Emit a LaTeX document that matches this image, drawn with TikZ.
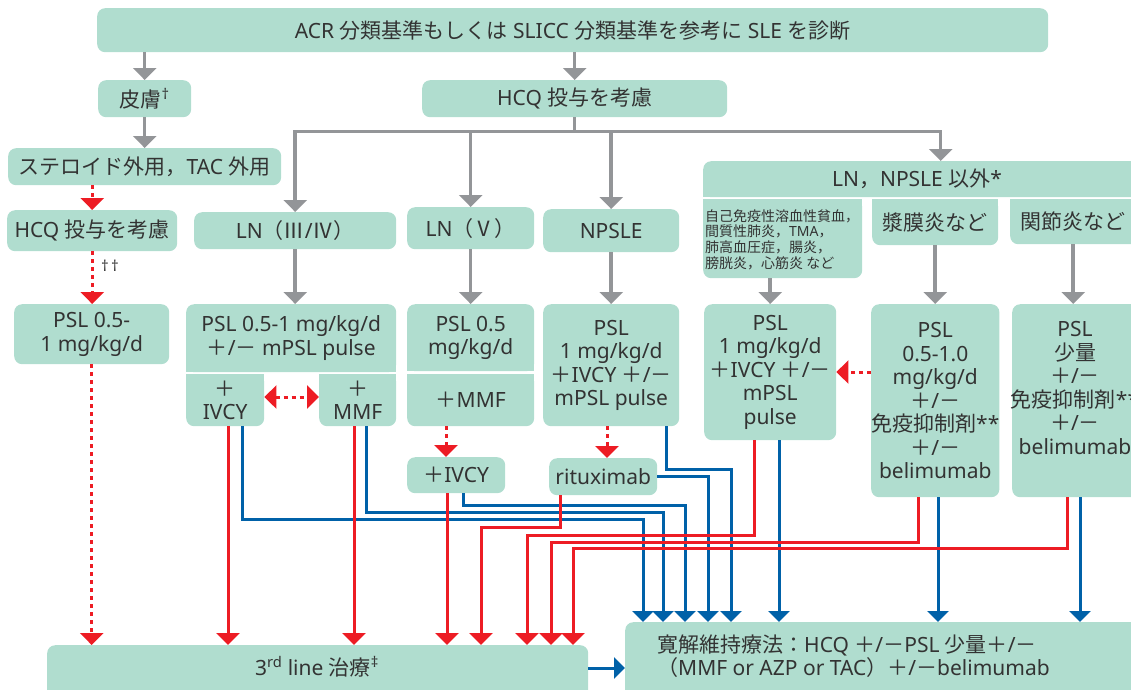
\documentclass[tikz,border=0pt]{standalone}
\usepackage{fontspec}
\setmainfont{Noto Sans}
\newfontfamily\cjk{Noto Sans CJK JP}
\usetikzlibrary{arrows.meta}
\definecolor{boxc}{HTML}{B0DDCF}
\definecolor{txtc}{HTML}{333333}
\definecolor{grayc}{HTML}{939598}
\definecolor{redc}{HTML}{ED1C24}
\definecolor{bluec}{HTML}{0061A8}
\newcommand\PMj{{\cjk ＋}/{\cjk －}}
\tikzset{
 box/.style={fill=boxc, rounded corners=8pt, inner sep=0pt, align=center, text=txtc, anchor=north west, font=\fontsize{21pt}{23.5pt}\selectfont},
 txt/.style={inner sep=0pt, text=txtc, font=\fontsize{21pt}{23.5pt}\selectfont},
 garrow/.style={draw=grayc, line width=3.5pt, -{Triangle[width=23pt,length=12pt]}},
 rarrow/.style={draw=redc, line width=3pt, -{Triangle[width=23pt,length=12pt]}},
 rdot/.style={rarrow, dash pattern=on 4pt off 4pt},
 barrow/.style={draw=bluec, line width=3pt, -{Triangle[width=21pt,length=11pt]}},
}
\newcommand\bx[6]{\node[box, minimum width={(#4-#2)*1pt}, minimum height={(#5-#3)*1pt}] (#1) at (#2,#3) {#6};}
\begin{document}
\begin{tikzpicture}[x=1pt,y=-1pt]
\useasboundingbox (0,0) rectangle (1131,689);
\clip (0,0) rectangle (1131,689);
% square-corner patches (drawn first, under the boxes)
\fill[boxc] (703,185) rectangle (1140,197);
\fill[boxc] (703,199) rectangle (862,211);
\fill[boxc] (872,199) rectangle (998,211);
\fill[boxc] (1010,199) rectangle (1140,211);
\fill[boxc] (186,360) rectangle (396,372);
\fill[boxc] (186,374) rectangle (264,386);
\fill[boxc] (319,374) rectangle (396,386);
\fill[boxc] (407,359) rectangle (534,371);
\fill[boxc] (407,374) rectangle (534,386);
% boxes
\bx{top}{97}{8}{1048}{52}{ACR {\cjk 分類基準もしくは} SLICC {\cjk 分類基準を参考に} SLE {\cjk を診断}}
\bx{skin}{98}{80}{191}{117}{{\cjk 皮膚}\textsuperscript{†}}
\bx{hcq}{422}{80}{727}{117}{HCQ {\cjk 投与を考慮}}
\bx{ster}{8}{148}{281}{185}{{\cjk ステロイド外用，}TAC {\cjk 外用}}
\bx{hcqL}{7}{210}{177}{251}{HCQ {\cjk 投与を考慮}}
\bx{pslL}{14}{304}{169}{364}{PSL 0.5-\\1 mg/kg/d}
\bx{ln34}{194}{212}{396}{249}{LN{\cjk （Ⅲ}/{\cjk Ⅳ）}}
\bx{ln5}{407}{207}{534}{249}{LN{\cjk （Ⅴ）}}
\bx{npsle}{543}{209}{679}{252}{NPSLE}
\bx{hdr}{703}{161}{1140}{197}{}
\node[txt] (hdrt) at (917,179) {LN{\cjk ，}NPSLE {\cjk 以外}*};
\bx{auto}{703}{199}{862}{278}{}
\node[txt, anchor=west, align=left, font=\fontsize{14pt}{15.7pt}\selectfont] (autot) at (705,239.5)
 {{\cjk 自己免疫性溶血性貧血，}\\{\cjk 間質性肺炎，}TMA{\cjk ，}\\{\cjk 肺高血圧症，腸炎，}\\{\cjk 膀胱炎，心筋炎 など}};
\bx{serous}{872}{199}{998}{245}{{\cjk 漿膜炎など}}
\bx{arth}{1010}{199}{1140}{244}{}
\node[txt] (artht) at (1073,221) {{\cjk 関節炎など}};
% second row
\bx{psl34}{186}{304}{396}{372}{PSL 0.5-1 mg/kg/d\\\PMj\ mPSL pulse}
\bx{ivcy}{186}{374}{264}{426}{{\cjk ＋}\\IVCY}
\bx{mmf}{319}{374}{396}{426}{{\cjk ＋}\\MMF}
\bx{psl5}{407}{304}{534}{371}{PSL 0.5\\mg/kg/d}
\bx{mmf5}{407}{374}{534}{426}{{\cjk ＋}MMF}
\bx{ivcy5}{407}{457}{505}{493}{{\cjk ＋}IVCY}
\bx{pslNP}{543}{304}{679}{426}{PSL\\1 mg/kg/d\\{\cjk ＋}IVCY \PMj\\mPSL pulse}
\bx{ritux}{549}{458}{657}{495}{rituximab}
\bx{pslA}{704}{304}{836}{440}{PSL\\1 mg/kg/d\\{\cjk ＋}IVCY \PMj\\mPSL\\pulse}
\bx{pslB}{871}{304}{998}{497}{PSL\\0.5-1.0\\mg/kg/d\\\PMj\\{\cjk 免疫抑制剤}**\\\PMj\\belimumab}
\bx{pslC}{1012}{304}{1140}{497}{}
\node[txt, align=center] (pslCt) at (1075,388) {PSL\\{\cjk 少量}\\\PMj\\{\cjk 免疫抑制剤}**\\\PMj\\belimumab};
% bottom
\bx{third}{47}{645}{588}{700}{}
\node[txt] (thirdt) at (317,667) {3\textsuperscript{rd} line {\cjk 治療}\textsuperscript{‡}};
\bx{rem}{625}{622}{1140}{700}{}
\node[txt, anchor=west, align=left] (remt) at (657,656)
 {{\cjk 寛解維持療法：}HCQ \PMj PSL {\cjk 少量}\PMj\\{\cjk （}MMF or AZP or TAC{\cjk ）}\PMj belimumab};
% gray connectors
\coordinate (hb) at ([yshift=-14pt]hcq.south);
\draw[garrow] (top.south -| skin.north) -- (skin.north);
\draw[garrow] (top.south -| hcq.north) -- (hcq.north);
\draw[garrow] (skin.south) -- (skin.south |- ster.north);
\draw[draw=grayc, line width=3.5pt] (hcq.south) -- (hb);
\draw[garrow] (hb) -| (ln34.north);
\draw[garrow] (hb) -| (ln5.north);
\draw[garrow] (hb) -| (npsle.north);
\draw[garrow] (hb) -| ([xshift=19pt]hdr.north);
\draw[garrow] (ln34.south) -- (ln34.south |- psl34.north);
\draw[garrow] (ln5.south) -- (ln5.south |- psl5.north);
\draw[garrow] (npsle.south) -- (npsle.south |- pslNP.north);
\draw[garrow] (pslA.north |- auto.south) -- (pslA.north);
\draw[garrow] (serous.south) -- (serous.south |- pslB.north);
\draw[garrow] ([xshift=-3pt]pslC.north |- arth.south) -- ([xshift=-3pt]pslC.north);
% red dotted
\draw[rdot] (ster.south -| hcqL.north) -- (hcqL.north);
\draw[rdot] (hcqL.south) -- (hcqL.south |- pslL.north);
\node[txt, font=\fontsize{15pt}{15pt}\selectfont] (dd) at (110,266) {†\,†};
\draw[rdot] (pslL.south) -- (pslL.south |- third.north);
\draw[rdot, {Triangle[width=23pt,length=12pt]}-{Triangle[width=23pt,length=12pt]}] (ivcy.east |- 0,397) -- (mmf.west |- 0,397);
\draw[rdot] (mmf5.south -| 446,0) -- (ivcy5.north -| 446,0);
\draw[rdot] (pslNP.south -| 607,0) -- (ritux.north -| 607,0);
\draw[rdot] (pslB.west |- 0,372) -- (pslA.east |- 0,372);
% blue connectors
\draw[barrow] (ivcy.south -| 242,0) -- (242,519) -| (rem.north -| 643,0);
\draw[barrow] (mmf.south -| 366,0) -- (366,512) -| (rem.north -| 663,0);
\draw[barrow] (ivcy5.south -| 463,0) -- (463,505) -| (rem.north -| 685,0);
\draw[barrow] (ritux.east) -| (rem.north -| 708,0);
\draw[barrow] (pslNP.south -| 666,0) -- (666,469) -| (rem.north -| 731,0);
\draw[barrow] (pslA.south -| 779,0) -- (rem.north -| 779,0);
\draw[barrow] (pslB.south -| 938,0) -- (rem.north -| 938,0);
\draw[barrow] (pslC.south -| 1080,0) -- (rem.north -| 1080,0);
\draw[barrow] (third.east |- 0,668) -- (rem.west |- 0,668);
% red connectors
\draw[rarrow] (ivcy.south -| 228,0) -- (third.north -| 228,0);
\draw[rarrow] (mmf.south -| 354,0) -- (third.north -| 354,0);
\draw[rarrow] (ivcy5.south -| 447,0) -- (third.north -| 447,0);
\draw[rarrow] (ritux.south -| 560,0) -- (560,527) -| (third.north -| 481,0);
\draw[rarrow] (pslA.south -| 754,0) -- (754,535) -| (third.north -| 527,0);
\draw[rarrow] (pslB.south -| 918,0) -- (918,542) -| (third.north -| 551,0);
\draw[rarrow] (pslC.south -| 1067,0) -- (1067,548) -| (third.north -| 573,0);
\end{tikzpicture}
\end{document}
